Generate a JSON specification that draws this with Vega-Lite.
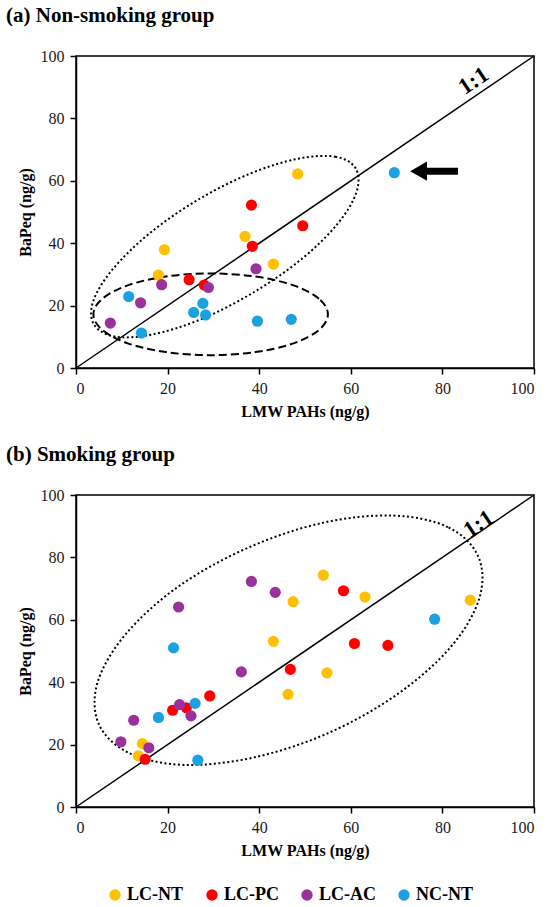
{
  "$schema": "https://vega.github.io/schema/vega-lite/v6.json",
  "padding": {"left": 5, "top": 4, "right": 5, "bottom": 2},
  "background": "white",
  "datasets": {
    "pa": [
      {"g": "LC-NT", "x": 48.4, "y": 62.2}, {"g": "LC-NT", "x": 36.9, "y": 42.2},
      {"g": "LC-NT", "x": 19.3, "y": 37.9}, {"g": "LC-NT", "x": 43.1, "y": 33.3},
      {"g": "LC-NT", "x": 18.0, "y": 29.8},
      {"g": "LC-PC", "x": 38.3, "y": 52.2}, {"g": "LC-PC", "x": 49.5, "y": 45.6},
      {"g": "LC-PC", "x": 38.5, "y": 39.0}, {"g": "LC-PC", "x": 24.7, "y": 28.3},
      {"g": "LC-PC", "x": 28.0, "y": 26.6},
      {"g": "LC-AC", "x": 39.3, "y": 31.8}, {"g": "LC-AC", "x": 18.7, "y": 26.7},
      {"g": "LC-AC", "x": 28.9, "y": 25.8}, {"g": "LC-AC", "x": 14.1, "y": 20.9},
      {"g": "LC-AC", "x": 7.5, "y": 14.4},
      {"g": "NC-NT", "x": 11.5, "y": 22.9}, {"g": "NC-NT", "x": 27.7, "y": 20.7},
      {"g": "NC-NT", "x": 25.7, "y": 17.8}, {"g": "NC-NT", "x": 28.3, "y": 17.0},
      {"g": "NC-NT", "x": 14.3, "y": 11.2}, {"g": "NC-NT", "x": 39.6, "y": 15.0},
      {"g": "NC-NT", "x": 47.0, "y": 15.6}, {"g": "NC-NT", "x": 69.5, "y": 62.6}
    ],
    "pb": [
      {"g": "LC-NT", "x": 54.0, "y": 74.3}, {"g": "LC-NT", "x": 47.4, "y": 65.8},
      {"g": "LC-NT", "x": 63.1, "y": 67.3}, {"g": "LC-NT", "x": 86.1, "y": 66.3},
      {"g": "LC-NT", "x": 43.1, "y": 53.1}, {"g": "LC-NT", "x": 54.8, "y": 43.0},
      {"g": "LC-NT", "x": 46.3, "y": 36.1}, {"g": "LC-NT", "x": 14.5, "y": 20.3},
      {"g": "LC-NT", "x": 13.6, "y": 16.4},
      {"g": "LC-PC", "x": 58.4, "y": 69.3}, {"g": "LC-PC", "x": 60.8, "y": 52.4},
      {"g": "LC-PC", "x": 68.1, "y": 51.8}, {"g": "LC-PC", "x": 46.8, "y": 44.1},
      {"g": "LC-PC", "x": 29.2, "y": 35.6}, {"g": "LC-PC", "x": 21.1, "y": 31.0},
      {"g": "LC-PC", "x": 24.1, "y": 31.8}, {"g": "LC-PC", "x": 15.1, "y": 15.3},
      {"g": "LC-AC", "x": 38.3, "y": 72.3}, {"g": "LC-AC", "x": 43.5, "y": 68.8},
      {"g": "LC-AC", "x": 22.4, "y": 64.1}, {"g": "LC-AC", "x": 36.1, "y": 43.3},
      {"g": "LC-AC", "x": 22.6, "y": 32.8}, {"g": "LC-AC", "x": 25.1, "y": 29.2},
      {"g": "LC-AC", "x": 12.6, "y": 27.8}, {"g": "LC-AC", "x": 9.8, "y": 20.9},
      {"g": "LC-AC", "x": 15.9, "y": 19.0},
      {"g": "NC-NT", "x": 78.3, "y": 60.2}, {"g": "NC-NT", "x": 21.3, "y": 51.0},
      {"g": "NC-NT", "x": 26.0, "y": 33.2}, {"g": "NC-NT", "x": 18.0, "y": 28.7},
      {"g": "NC-NT", "x": 26.6, "y": 15.0}
    ],
    "ell_a_dot": [
      {"i": 0, "x": 61.1, "y": 63.9}, {"i": 1, "x": 56.7, "y": 67.7},
      {"i": 2, "x": 48.5, "y": 67.1}, {"i": 3, "x": 38.0, "y": 62.3},
      {"i": 4, "x": 26.6, "y": 53.9}, {"i": 5, "x": 16.1, "y": 43.2},
      {"i": 6, "x": 8.1, "y": 31.8}, {"i": 7, "x": 3.8, "y": 21.6},
      {"i": 8, "x": 3.9, "y": 14.0}, {"i": 9, "x": 8.4, "y": 10.1},
      {"i": 10, "x": 16.5, "y": 10.7}, {"i": 11, "x": 27.1, "y": 15.5},
      {"i": 12, "x": 38.5, "y": 24.0}, {"i": 13, "x": 49.0, "y": 34.6},
      {"i": 14, "x": 57.0, "y": 46.0}, {"i": 15, "x": 61.2, "y": 56.2}
    ],
    "ell_a_dash": [
      {"i": 0, "x": 55.0, "y": 17.2}, {"i": 1, "x": 53.05, "y": 22.2},
      {"i": 2, "x": 47.5, "y": 26.5}, {"i": 3, "x": 39.2, "y": 29.3},
      {"i": 4, "x": 29.4, "y": 30.3}, {"i": 5, "x": 19.6, "y": 29.3},
      {"i": 6, "x": 11.3, "y": 26.5}, {"i": 7, "x": 5.75, "y": 22.2},
      {"i": 8, "x": 3.8, "y": 17.2}, {"i": 9, "x": 5.75, "y": 12.2},
      {"i": 10, "x": 11.3, "y": 7.9}, {"i": 11, "x": 19.6, "y": 5.1},
      {"i": 12, "x": 29.4, "y": 4.1}, {"i": 13, "x": 39.2, "y": 5.1},
      {"i": 14, "x": 47.5, "y": 7.9}, {"i": 15, "x": 53.05, "y": 12.2}
    ],
    "ell_b_dot": [
      {"i": 0, "x": 87.8, "y": 80.4}, {"i": 1, "x": 81.2, "y": 89.7},
      {"i": 2, "x": 69.3, "y": 93.4}, {"i": 3, "x": 53.9, "y": 91.1},
      {"i": 4, "x": 37.4, "y": 83.0}, {"i": 5, "x": 22.2, "y": 70.5},
      {"i": 6, "x": 10.8, "y": 55.3}, {"i": 7, "x": 4.7, "y": 39.9},
      {"i": 8, "x": 5.0, "y": 26.5}, {"i": 9, "x": 11.6, "y": 17.3},
      {"i": 10, "x": 23.5, "y": 13.5}, {"i": 11, "x": 38.9, "y": 15.9},
      {"i": 12, "x": 55.4, "y": 23.9}, {"i": 13, "x": 70.5, "y": 36.5},
      {"i": 14, "x": 82.0, "y": 51.6}, {"i": 15, "x": 88.1, "y": 67.1}
    ],
    "diag": [{"x": 0, "y": 0}, {"x": 100, "y": 100}],
    "lab_a": [{"x": 86.8, "y": 92.0, "t": "1:1"}],
    "lab_b": [{"x": 87.9, "y": 90.7, "t": "1:1"}],
    "arrow_tail": [{"x": 76.3, "x2": 83.4, "y": 63.1}],
    "arrow_head": [{"x": 74.8, "y": 63.1}]
  },
  "vconcat": [
    {
      "title": {"text": "(a) Non-smoking group"},
      "width": 458,
      "height": 312,
      "encoding": {
        "x": {
          "field": "x", "type": "quantitative",
          "scale": {"domain": [0, 100], "nice": false},
          "axis": {"values": [0, 20, 40, 60, 80, 100], "title": "LMW PAHs (ng/g)"}
        },
        "y": {
          "field": "y", "type": "quantitative",
          "scale": {"domain": [0, 100], "nice": false},
          "axis": {"values": [0, 20, 40, 60, 80, 100], "title": "BaPeq (ng/g)"}
        }
      },
      "layer": [
        {
          "data": {"name": "diag"},
          "mark": {"type": "line", "color": "black", "strokeWidth": 1.5},
          "encoding": {}
        },
        {
          "data": {"name": "ell_a_dot"},
          "mark": {"type": "line", "interpolate": "cardinal-closed", "color": "black", "strokeWidth": 2, "strokeDash": [2, 2.5]},
          "encoding": {"order": {"field": "i", "type": "quantitative"}}
        },
        {
          "data": {"name": "ell_a_dash"},
          "mark": {"type": "line", "interpolate": "cardinal-closed", "color": "black", "strokeWidth": 2, "strokeDash": [8, 4]},
          "encoding": {"order": {"field": "i", "type": "quantitative"}}
        },
        {
          "data": {"name": "pa"},
          "mark": {"type": "circle", "size": 125, "opacity": 1},
          "encoding": {
            "color": {
              "field": "g", "type": "nominal",
              "scale": {
                "domain": ["LC-NT", "LC-PC", "LC-AC", "NC-NT"],
                "range": ["#FFC000", "#FF0000", "#9B319C", "#1BA1E2"]
              }
            }
          }
        },
        {
          "data": {"name": "arrow_tail"},
          "mark": {"type": "rule", "color": "black", "strokeWidth": 7},
          "encoding": {"x2": {"field": "x2"}}
        },
        {
          "data": {"name": "arrow_head"},
          "mark": {"type": "point", "shape": "triangle-left", "filled": true, "color": "black", "opacity": 1, "size": 380},
          "encoding": {}
        },
        {
          "data": {"name": "lab_a"},
          "mark": {"type": "text", "angle": -34, "fontSize": 23, "fontWeight": "bold", "font": "Liberation Serif", "color": "black", "baseline": "middle", "align": "center"},
          "encoding": {"text": {"field": "t"}}
        }
      ]
    },
    {
      "title": {"text": "(b) Smoking group"},
      "width": 458,
      "height": 312,
      "encoding": {
        "x": {
          "field": "x", "type": "quantitative",
          "scale": {"domain": [0, 100], "nice": false},
          "axis": {"values": [0, 20, 40, 60, 80, 100], "title": "LMW PAHs (ng/g)"}
        },
        "y": {
          "field": "y", "type": "quantitative",
          "scale": {"domain": [0, 100], "nice": false},
          "axis": {"values": [0, 20, 40, 60, 80, 100], "title": "BaPeq (ng/g)"}
        }
      },
      "layer": [
        {
          "data": {"name": "diag"},
          "mark": {"type": "line", "color": "black", "strokeWidth": 1.5},
          "encoding": {}
        },
        {
          "data": {"name": "ell_b_dot"},
          "mark": {"type": "line", "interpolate": "cardinal-closed", "color": "black", "strokeWidth": 2, "strokeDash": [2, 2.5]},
          "encoding": {"order": {"field": "i", "type": "quantitative"}}
        },
        {
          "data": {"name": "pb"},
          "mark": {"type": "circle", "size": 125, "opacity": 1},
          "encoding": {
            "color": {
              "field": "g", "type": "nominal",
              "scale": {
                "domain": ["LC-NT", "LC-PC", "LC-AC", "NC-NT"],
                "range": ["#FFC000", "#FF0000", "#9B319C", "#1BA1E2"]
              }
            }
          }
        },
        {
          "data": {"name": "lab_b"},
          "mark": {"type": "text", "angle": -34, "fontSize": 23, "fontWeight": "bold", "font": "Liberation Serif", "color": "black", "baseline": "middle", "align": "center"},
          "encoding": {"text": {"field": "t"}}
        }
      ]
    }
  ],
  "spacing": 23,
  "resolve": {"scale": {"color": "shared"}},
  "config": {
    "font": "Liberation Serif",
    "view": {"stroke": "black", "strokeWidth": 1.5},
    "title": {
      "anchor": "start", "frame": "group", "dx": -70, "offset": 22,
      "font": "Liberation Serif", "fontSize": 21, "fontWeight": "bold", "color": "black"
    },
    "axis": {
      "grid": false,
      "domainColor": "black", "domainWidth": 1.5,
      "tickColor": "black", "tickWidth": 1.5, "tickSize": 6,
      "labelFont": "Liberation Serif", "labelFontSize": 16, "labelColor": "#1a1a1a", "labelPadding": 6,
      "titleFont": "Liberation Serif", "titleFontSize": 16, "titleFontWeight": "bold", "titleColor": "black"
    },
    "axisX": {"titlePadding": 7},
    "axisY": {"titlePadding": 7},
    "legend": {
      "title": null, "orient": "none", "legendX": 30, "legendY": 830, "direction": "horizontal",
      "symbolType": "circle", "symbolSize": 130, "symbolOpacity": 1, "symbolStrokeWidth": 0,
      "labelFont": "Liberation Serif", "labelFontSize": 18, "labelFontWeight": "bold", "labelColor": "black",
      "labelOffset": 3, "columnPadding": 19
    }
  }
}
